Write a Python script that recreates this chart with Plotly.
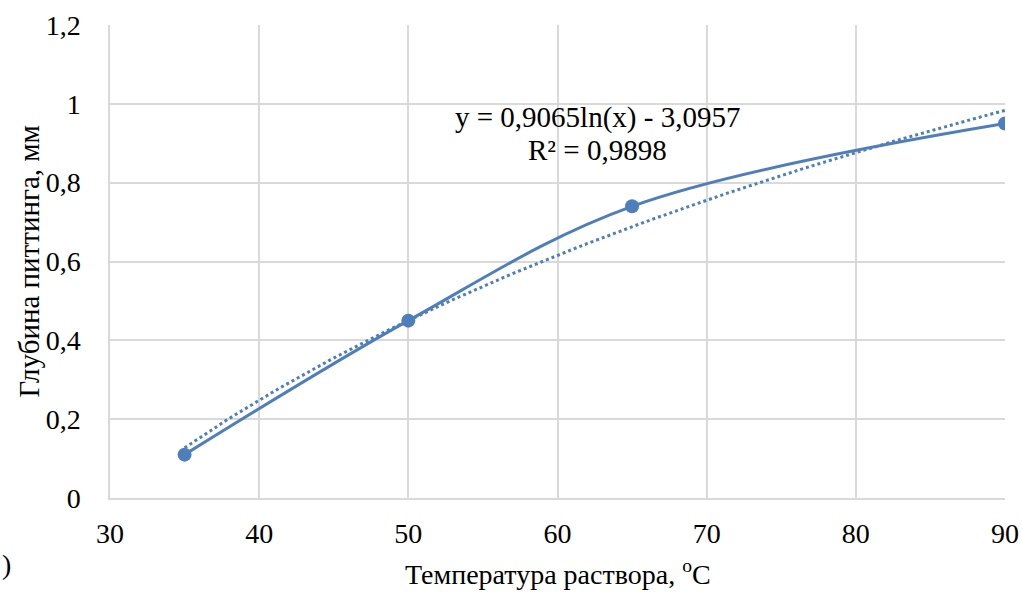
import numpy as np
import plotly.graph_objects as go

temperature = [35, 50, 65, 90]
depth = [0.11, 0.45, 0.74, 0.95]
trend_a = 0.9065
trend_b = -3.0957
eq_label = "y = 0,9065ln(x) - 3,0957"
r2_label = "R² = 0,9898"

x_title = "Температура раствора, <sup>o</sup>C"
y_title = "Глубина питтинга, мм"
panel_label = ")"

color = "#4F7EBB"
font_family = "Liberation Serif, Times New Roman, serif"

tx = np.linspace(min(temperature), max(temperature), 120)
ty = trend_a * np.log(tx) + trend_b

fig = go.Figure()
fig.add_trace(go.Scatter(x=tx, y=ty, mode="lines",
                         line=dict(color=color, width=3, dash="dot"),
                         hoverinfo="skip", showlegend=False))
fig.add_trace(go.Scatter(x=temperature, y=depth, mode="lines+markers",
                         line=dict(color=color, width=3, shape="spline", smoothing=1.0),
                         marker=dict(color=color, size=14),
                         showlegend=False))

ann_font = dict(family=font_family, size=29, color="#000000")
fig.add_annotation(x=62.65, y=0.966, xref="x", yref="y", text=eq_label,
                   showarrow=False, font=ann_font, xanchor="center", yanchor="middle")
fig.add_annotation(x=62.65, y=0.883, xref="x", yref="y", text=r2_label,
                   showarrow=False, font=ann_font, xanchor="center", yanchor="middle")

# axis titles
fig.add_annotation(x=-0.0916, y=0.5, xref="paper", yref="paper", text=y_title,
                   textangle=-90, showarrow=False, xanchor="center", yanchor="middle",
                   font=dict(family=font_family, size=29, color="#000000"))
fig.add_annotation(x=0.5, y=-0.1575, xref="paper", yref="paper", text=x_title,
                   showarrow=False, xanchor="center", yanchor="middle",
                   font=dict(family=font_family, size=28, color="#000000"))
fig.add_annotation(x=-0.1229, y=-0.1416, xref="paper", yref="paper",
                   text=panel_label, showarrow=False, xanchor="left", yanchor="middle",
                   font=dict(family=font_family, size=28, color="#000000"))

fig.update_layout(
    width=1022, height=592,
    margin=dict(l=110, r=17, t=25, b=94, autoexpand=False),
    plot_bgcolor="white", paper_bgcolor="white",
    separators=", ",
    font=dict(family=font_family, size=28, color="#000000"),
    xaxis=dict(range=[30, 90], dtick=10, tick0=30, automargin=False,
               showgrid=True, gridcolor="#D9D9D9", gridwidth=1.5,
               showline=True, linecolor="#D9D9D9", linewidth=1.5,
               zeroline=False, ticks="", ticklen=0, ticklabelstandoff=10,
               tickfont=dict(family=font_family, size=28)),
    yaxis=dict(range=[0, 1.2], dtick=0.2, tick0=0, automargin=False,
               showgrid=True, gridcolor="#D9D9D9", gridwidth=1.5,
               showline=True, linecolor="#D9D9D9", linewidth=1.5,
               zeroline=False, ticks="", ticklen=0, ticklabelstandoff=22,
               tickformat="~g",
               tickfont=dict(family=font_family, size=28)),
)

fig.write_html("out.html", config={"displayModeBar": False},
               post_script="document.body.style.margin='0';document.body.style.overflow='hidden';")
